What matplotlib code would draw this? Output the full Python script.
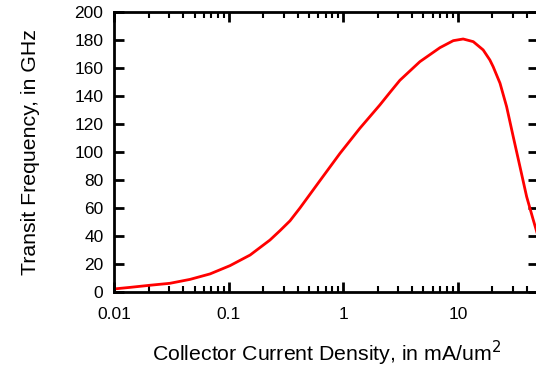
import matplotlib.pyplot as plt
from matplotlib.ticker import FixedLocator, LogLocator, NullFormatter

plt.rcParams['font.family'] = ['Liberation Sans', 'DejaVu Sans']

# current density (mA/um^2) and transit frequency (GHz)
jc = [0.01, 0.0137, 0.0204, 0.0305, 0.0457, 0.0683, 0.102, 0.153, 0.228,
      0.279, 0.341, 0.417, 0.624, 0.932, 1.39, 2.08, 2.55, 3.11, 4.65, 6.96,
      9.10, 11.1, 13.6, 16.6, 19.0, 20.3, 23.3, 26.6, 30.4, 34.8, 39.8, 45.5,
      50.0]
ft = [2.2, 3.3, 4.8, 6.2, 9.0, 12.9, 18.8, 26.4, 37.1,
      43.8, 50.8, 60.0, 79.6, 99.0, 116.9, 133.6, 142.6, 151.2, 164.5, 174.5,
      179.5, 180.7, 178.8, 172.9, 165.7, 160.9, 149.1, 132.4, 110.9, 89.5,
      68.1, 51.4, 40.0]

x_ticks = [0.01, 0.1, 1, 10]
x_labels = ['0.01', '0.1', '1', '10']
y_ticks = list(range(0, 201, 20))

fig = plt.figure(figsize=(5.36, 3.67), dpi=100)
ax = fig.add_axes([0.2136, 0.2044, 0.7901, 0.763])

ax.plot(jc, ft, color='#ff0000', lw=2)

ax.set_xscale('log')
ax.set_xlim(0.01, 50)
ax.set_ylim(0, 200)
ax.xaxis.set_major_locator(FixedLocator(x_ticks))
ax.set_xticklabels(x_labels)
ax.xaxis.set_minor_locator(LogLocator(base=10, subs=range(2, 10)))
ax.xaxis.set_minor_formatter(NullFormatter())
ax.set_yticks(y_ticks)

for s in ax.spines.values():
    s.set_linewidth(2)
ax.tick_params(which='major', direction='in', length=7, width=2,
               top=True, right=True, labelsize=12.5)
ax.tick_params(axis='x', which='major', pad=11)
ax.tick_params(axis='y', which='major', pad=8)
ax.tick_params(which='minor', direction='in', length=4, width=1.5,
               top=True, right=True)

ax.set_xlabel('Collector Current Density, in mA/um$^2$', fontsize=15.3, labelpad=12)
ax.set_ylabel('Transit Frequency, in GHz', fontsize=15.3, labelpad=25)

fig.savefig('out.png', dpi=100)
